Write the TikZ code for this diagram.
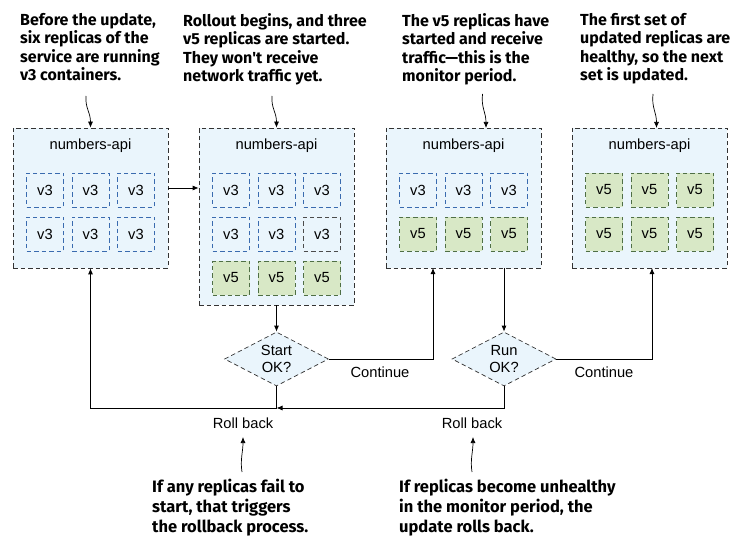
\documentclass[tikz,border=0pt]{standalone}
\usepackage{fontspec}
\setmainfont{Liberation Sans}
\newfontfamily\notefont{Fira Sans}
\usetikzlibrary{arrows.meta,shapes.geometric}

\definecolor{apifill}{HTML}{EAF5FC}
\definecolor{oldline}{HTML}{3A6BAF}
\definecolor{newfill}{HTML}{D8E8C6}
\definecolor{newline}{HTML}{4F6F45}

\tikzset{
  apibox/.style={draw=black!80,dash pattern=on 4.5pt off 3pt,line width=0.7pt,
    fill=apifill,minimum width=155pt,inner sep=0},
  oldpod/.style={draw=oldline,dash pattern=on 4.5pt off 3pt,line width=0.7pt,
    minimum width=37pt,minimum height=34pt,inner sep=0,
    font=\fontsize{14.7}{16}\selectfont},
  newpod/.style={oldpod,draw=newline,fill=newfill},
  check/.style={diamond,draw=black!80,dash pattern=on 4.5pt off 3pt,line width=0.7pt,
    fill=apifill,aspect=1.93,minimum width=104pt,minimum height=54pt,inner sep=0,
    align=center,font=\fontsize{14.7}{17}\selectfont},
  flowtext/.style={inner sep=0,anchor=base,font=\fontsize{14.7}{16}\selectfont},
  note/.style={inner sep=0,anchor=north west,align=left,
    font=\notefont\bfseries\fontsize{16}{18.5}\selectfont},
  flow/.style={line width=0.8pt,-{Latex[length=6pt,width=5pt]}},
  curl/.style={line width=0.7pt,-{Latex[length=6pt,width=5pt]}}
}

\begin{document}
\begin{tikzpicture}[x=1pt,y=-1pt]
  \useasboundingbox (0,0) rectangle (741,545);

  % the four stages of numbers-api
  \node[apibox,minimum height=140pt] (api1) at (90.5,198) {};
  \node[apibox,minimum height=177pt] (api2) at (276.5,216.5) {};
  \node[apibox,minimum height=140pt] (api3) at (463.5,198) {};
  \node[apibox,minimum height=140pt] (api4) at (649.5,198) {};
  \node[flowtext] (name1) at (90.5,149.5) {numbers-api};
  \node[flowtext] (name2) at (276.5,149.5) {numbers-api};
  \node[flowtext] (name3) at (463.5,149.5) {numbers-api};
  \node[flowtext] (name4) at (649.5,149.5) {numbers-api};

  % stage 1
  \node[oldpod] (a11) at (45,190) {v3};
  \node[oldpod] (a12) at (90.5,190) {v3};
  \node[oldpod] (a13) at (136,190) {v3};
  \node[oldpod] (a21) at (45,234) {v3};
  \node[oldpod] (a22) at (90.5,234) {v3};
  \node[oldpod] (a23) at (136,234) {v3};
  % stage 2
  \node[oldpod] (b11) at (231,190) {v3};
  \node[oldpod] (b12) at (276.5,190) {v3};
  \node[oldpod] (b13) at (322,190) {v3};
  \node[oldpod] (b21) at (231,234) {v3};
  \node[oldpod] (b22) at (276.5,234) {v3};
  \node[oldpod,draw=black!70] (b23) at (322,234) {v3};
  \node[newpod] (b31) at (231,278) {v5};
  \node[newpod] (b32) at (276.5,278) {v5};
  \node[newpod] (b33) at (322,278) {v5};
  % stage 3
  \node[oldpod] (c11) at (418,190) {v3};
  \node[oldpod] (c12) at (463.5,190) {v3};
  \node[oldpod] (c13) at (509,190) {v3};
  \node[newpod] (c21) at (418,234) {v5};
  \node[newpod] (c22) at (463.5,234) {v5};
  \node[newpod] (c23) at (509,234) {v5};
  % stage 4
  \node[newpod] (d11) at (604,190) {v5};
  \node[newpod] (d12) at (649.5,190) {v5};
  \node[newpod] (d13) at (695,190) {v5};
  \node[newpod] (d21) at (604,234) {v5};
  \node[newpod] (d22) at (649.5,234) {v5};
  \node[newpod] (d23) at (695,234) {v5};

  % checks
  \node[check] (start) at (276.5,359) {Start\\OK?};
  \node[check] (run) at (504,359) {Run\\OK?};

  \coordinate (out3) at (504,268);
  \coordinate (in3) at (433,268);
  \coordinate (in4) at (652,268);
  \coordinate (back) at (276.5,408);

  \draw[flow] ([yshift=10pt]api1.east) -- ([yshift=10pt]api1.east -| api2.west);
  \draw[flow] (api2.south) -- (start.north);
  \draw[flow] (start.east) -| (in3);
  \draw[flow] (out3) -- (run.north);
  \draw[flow] (run.east) -| (in4);
  \draw[flow] (run.south) |- (back);
  \draw[flow] (start.south) -- (back) -| (api1.south);

  \node[flowtext] (cont1) at (380,377) {Continue};
  \node[flowtext] (cont2) at (604,377) {Continue};
  \node[flowtext] (roll1) at (243,428) {Roll back};
  \node[flowtext] (roll2) at (472,428) {Roll back};

  % notes
  \node[note] (note1) at (20,13) {Before the update,\\six replicas of the\\service are running\\v3 containers.};
  \node[note] (note2) at (183,13) {Rollout begins, and three\\v5 replicas are started.\\They won't receive\\network traffic yet.};
  \node[note] (note3) at (402,13) {The v5 replicas have\\started and receive\\traffic—this is the\\monitor period.};
  \node[note] (note4) at (580,13) {The first set of\\updated replicas are\\healthy, so the next\\set is updated.};
  \node[note,font=\notefont\bfseries\fontsize{16.5}{20}\selectfont] (note5) at (152,479) {If any replicas fail to\\start, that triggers\\the rollback process.};
  \node[note,font=\notefont\bfseries\fontsize{16.5}{20}\selectfont] (note6) at (399,479) {If replicas become unhealthy\\in the monitor period, the\\update rolls back.};

  \draw[curl] (86,96) .. controls (85,108) and (90.5,112) .. (api1.north);
  \draw[curl] (272,96) .. controls (271,108) and (276.5,112) .. (api2.north);
  \draw[curl] (482.5,94) .. controls (481,108) and (486,112) .. (486,128);
  \draw[curl] (653,94) .. controls (651.5,108) and (656.5,112) .. (656.5,128);
  \draw[curl] (242,472) .. controls (240,460) and (243,452) .. (243,437);
  \draw[curl] (472,472) .. controls (470,460) and (473,452) .. (473,437);
\end{tikzpicture}
\end{document}
